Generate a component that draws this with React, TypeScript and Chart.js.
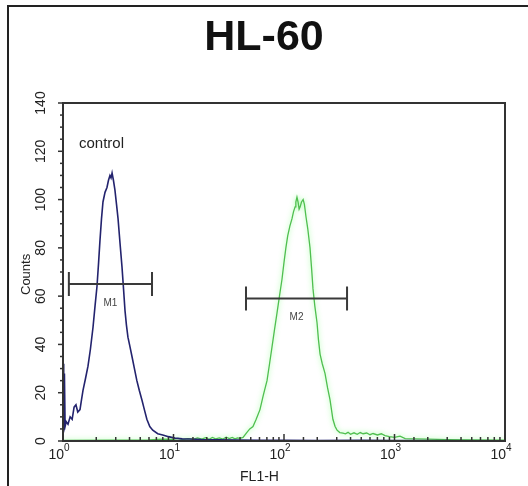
import React, { useEffect, useRef } from "react";
import { Chart, registerables } from "chart.js";

Chart.register(...registerables);

// ---- data ----
const chartTitle = "HL-60";
const xAxisTitle = "FL1-H";
const yAxisTitle = "Counts";
const controlLabel = "control";

const controlX = [1.0, 1.01, 1.02, 1.03, 1.045, 1.07, 1.11, 1.16, 1.21, 1.26, 1.31, 1.36, 1.425, 1.47, 1.517, 1.6, 1.683, 1.77, 1.868, 1.95, 2.03, 2.1, 2.16, 2.23, 2.3, 2.4, 2.5, 2.58, 2.66, 2.72, 2.78, 2.86, 2.95, 3.05, 3.15, 3.28, 3.42, 3.53, 3.64, 3.75, 3.87, 4.04, 4.21, 4.43, 4.66, 4.9, 5.18, 5.45, 5.74, 6.1, 6.49, 7.2, 8.0, 9.0, 10.3, 12, 14, 18, 25, 40, 60, 100, 200, 500, 1000, 10000];
const controlY = [5, 32, 20, 28, 6, 8, 7, 10, 9, 14, 15, 12, 13, 17, 21, 26, 31, 38, 47, 56, 64, 74, 83, 92, 99, 103, 105, 108, 110, 109, 111, 108, 104, 98, 92, 82, 72, 63, 54, 48, 43, 39, 35, 30, 25, 21, 17, 13, 9, 6, 4.5, 3, 2.5, 1.8, 1.2, 0.9, 0.8, 0.6, 0.5, 0.4, 0.3, 0.3, 0.2, 0.3, 0.2, 0.1];

const sampleX = [1, 3, 6, 8, 10, 11, 12, 13.5, 15, 16.5, 18, 19.5, 21, 22.5, 24, 26, 28, 30, 32, 34, 36, 38, 40, 42.6, 46, 49, 52.4, 56, 60.6, 65, 70.2, 74, 77.9, 82, 86.4, 91, 95.9, 100, 104, 108, 113, 118, 122, 126, 128, 131, 134, 137, 140, 144, 149, 153, 158, 164, 172, 178, 183, 190, 199, 205, 212, 222, 235, 248, 261, 277, 290, 302, 320, 342, 360, 380, 400, 430, 460, 490, 520, 560, 600, 640, 700, 760, 820, 900, 1000, 1122, 1250, 1500, 2000, 3000, 5000, 10000];
const sampleY = [0.3, 0.4, 0.5, 0.8, 0.7, 1.1, 0.6, 1.0, 0.7, 1.3, 0.8, 1.4, 0.7, 1.5, 0.9, 1.3, 0.8, 1.6, 1.0, 1.5, 0.9, 1.3, 1.1, 1.5, 3.5, 5, 6, 9, 13, 19, 25, 32, 39, 46, 53, 60, 67, 74, 80, 85, 89, 92, 95, 97, 99, 101, 99, 96, 97, 99, 100, 98, 93, 88, 80, 71, 63, 56, 49, 42, 36, 32, 28, 22, 17, 9, 6, 4.5, 3.5, 3.3, 3.0, 3.6, 2.8, 3.4, 2.8, 3.5, 3.0, 3.3, 2.6, 3.1, 2.5, 3.0, 2.2, 1.8, 1.5, 2.0, 1.0, 0.9, 0.8, 0.6, 0.5, 0.4];

const markerLabels = ["M1", "M2"];
const markerStart = [1.13, 45.3];
const markerEnd = [6.39, 372];
const markerLevel = [65, 59];

const yMajorTicks = [0, 20, 40, 60, 80, 100, 120, 140];
const xDecades = [1, 10, 100, 1000, 10000];
const xExponents = ["0", "1", "2", "3", "4"];

const FONT = "'Liberation Sans', Arial, sans-serif";

const overlay = {
  id: "overlay",
  beforeDatasetDraw(chart: any, args: any) {
    const ctx = chart.ctx;
    ctx.save();
    if (args.index === 1) {
      ctx.shadowColor = "rgba(110,255,110,0.75)";
      ctx.shadowBlur = 5;
    }
  },
  afterDatasetDraw(chart: any) {
    chart.ctx.restore();
  },
  afterDatasetsDraw(chart: any) {
    const ctx = chart.ctx;
    const xs = chart.scales.x;
    const ys = chart.scales.y;
    ctx.save();
    for (let i = 0; i < markerLabels.length; i++) {
      const x1 = xs.getPixelForValue(markerStart[i]);
      const x2 = xs.getPixelForValue(markerEnd[i]);
      const y = ys.getPixelForValue(markerLevel[i]);
      ctx.strokeStyle = "#3a3a3a";
      ctx.lineWidth = 2;
      ctx.beginPath();
      ctx.moveTo(x1, y);
      ctx.lineTo(x2, y);
      ctx.moveTo(x1, y - 12);
      ctx.lineTo(x1, y + 12);
      ctx.moveTo(x2, y - 12);
      ctx.lineTo(x2, y + 12);
      ctx.stroke();
      ctx.fillStyle = "#444";
      ctx.font = `10px ${FONT}`;
      ctx.textAlign = "center";
      ctx.textBaseline = "middle";
      const mid = xs.getPixelForValue(Math.sqrt(markerStart[i] * markerEnd[i]));
      ctx.fillText(markerLabels[i], mid, y + 19);
    }
    ctx.restore();
  },
  afterDraw(chart: any) {
    const ctx = chart.ctx;
    const a = chart.chartArea;
    const xs = chart.scales.x;
    const ys = chart.scales.y;
    ctx.save();
    // frame
    ctx.strokeStyle = "#333";
    ctx.lineWidth = 2;
    ctx.strokeRect(a.left, a.top, a.right - a.left, a.bottom - a.top);
    // y ticks
    ctx.lineWidth = 1.5;
    ctx.strokeStyle = "#333";
    ys.ticks.forEach((t: any) => {
      const y = ys.getPixelForValue(t.value);
      const len = yMajorTicks.includes(t.value) ? 5 : 3;
      ctx.beginPath();
      ctx.moveTo(a.left - len, y);
      ctx.lineTo(a.left, y);
      ctx.stroke();
    });
    // x ticks (inside)
    xs.ticks.forEach((t: any) => {
      const x = xs.getPixelForValue(t.value);
      const len = xDecades.includes(t.value) ? 7 : 4;
      ctx.beginPath();
      ctx.moveTo(x, a.bottom);
      ctx.lineTo(x, a.bottom - len);
      ctx.stroke();
    });
    // y tick labels, rotated
    ctx.fillStyle = "#222";
    ctx.font = `14px ${FONT}`;
    ctx.textAlign = "center";
    ctx.textBaseline = "middle";
    yMajorTicks.forEach((v) => {
      const y = ys.getPixelForValue(v);
      ctx.save();
      ctx.translate(a.left - 22, y);
      ctx.rotate(-Math.PI / 2);
      ctx.fillText(String(v), 0, 0);
      ctx.restore();
    });
    // y axis title
    ctx.save();
    ctx.font = `13px ${FONT}`;
    ctx.translate(a.left - 37, ys.getPixelForValue(69));
    ctx.rotate(-Math.PI / 2);
    ctx.fillText(yAxisTitle, 0, 0);
    ctx.restore();
    // x tick labels with superscripts
    ctx.textBaseline = "alphabetic";
    xDecades.forEach((v, i) => {
      const x = xs.getPixelForValue(v);
      ctx.font = `14px ${FONT}`;
      ctx.textAlign = "right";
      ctx.fillText("10", x + 1, a.bottom + 18);
      ctx.font = `10px ${FONT}`;
      ctx.textAlign = "left";
      ctx.fillText(xExponents[i], x + 1, a.bottom + 10);
    });
    // x axis title
    ctx.font = `14px ${FONT}`;
    ctx.textAlign = "center";
    ctx.fillText(xAxisTitle, xs.getPixelForValue(60), a.bottom + 40);
    // control label
    ctx.font = `15px ${FONT}`;
    ctx.textAlign = "left";
    ctx.fillText(controlLabel, a.left + 16, ys.getPixelForValue(121.5));
    // main title
    ctx.font = `bold 43px ${FONT}`;
    ctx.textAlign = "center";
    ctx.fillStyle = "#111";
    ctx.fillText(chartTitle, chart.width / 2, 50);
    ctx.restore();
  },
};

export default function App() {
  const ref = useRef<HTMLCanvasElement | null>(null);
  useEffect(() => {
    if (!ref.current) return;
    const chart = new Chart(ref.current, {
      type: "line",
      data: {
        datasets: [
          {
            label: "control",
            data: controlX.map((x, i) => ({ x, y: controlY[i] })),
            borderColor: "#23236e",
            borderWidth: 1.6,
            pointRadius: 0,
            tension: 0,
            fill: false,
          },
          {
            label: "sample",
            data: sampleX.map((x, i) => ({ x, y: sampleY[i] })),
            borderColor: "#4fbf4f",
            borderWidth: 1.3,
            pointRadius: 0,
            tension: 0,
            fill: false,
          },
        ],
      },
      options: {
        animation: false,
        responsive: false,
        devicePixelRatio: 1,
        layout: { padding: { left: 8, top: 103, right: 23, bottom: 0 } },
        plugins: { legend: { display: false }, tooltip: { enabled: false }, title: { display: false } },
        scales: {
          x: {
            type: "logarithmic",
            min: 1,
            max: 10000,
            ticks: { display: false },
            grid: { display: false, drawOnChartArea: false, drawTicks: false },
            border: { display: false },
            afterFit: (s: any) => { s.height = 45; },
          },
          y: {
            type: "linear",
            min: 0,
            max: 140,
            ticks: { display: false, stepSize: 5, maxTicksLimit: 40 },
            grid: { display: false, drawOnChartArea: false, drawTicks: false },
            border: { display: false },
            afterFit: (s: any) => { s.width = 55; },
          },
        },
      },
      plugins: [overlay],
    });
    return () => chart.destroy();
  }, []);
  return (
    <div style={{ position: "fixed", left: 0, top: 0, width: 528, height: 486, background: "#fff" }}>
      <canvas ref={ref} width={528} height={486} style={{ position: "absolute", left: 0, top: 0, width: 528, height: 486 }} />
      <div style={{ position: "absolute", left: 7, top: 5, right: 0, bottom: 0, borderTop: "2px solid #222", borderLeft: "2px solid #222", pointerEvents: "none" }} />
    </div>
  );
}
